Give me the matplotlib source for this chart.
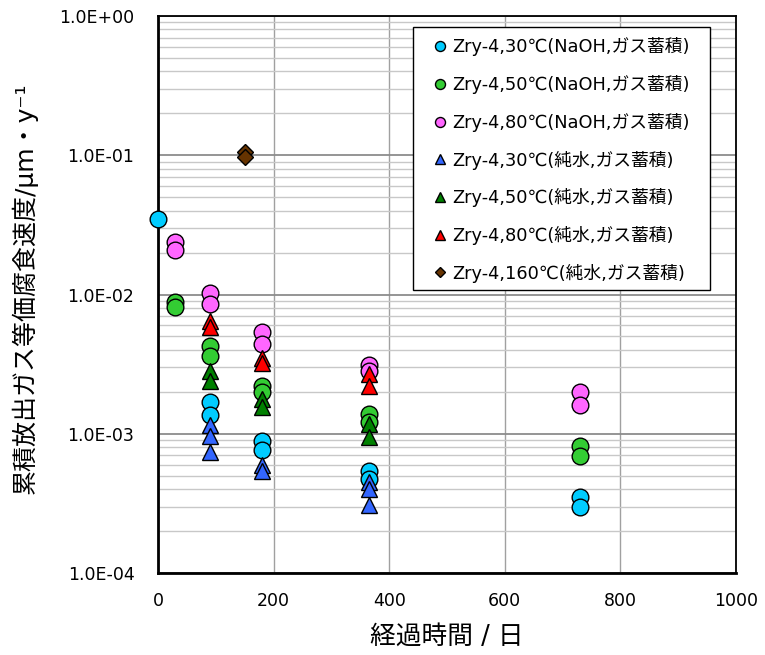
import matplotlib
matplotlib.use("Agg")
import matplotlib.pyplot as plt
from matplotlib.patches import Rectangle
from matplotlib.ticker import FixedLocator, FuncFormatter, LogLocator, NullFormatter

plt.rcParams['font.family'] = ['DejaVu Sans', 'Noto Sans CJK JP']

# ---- data ----
labels = ["Zry-4,30℃(NaOH,ガス蓄積)", "Zry-4,50℃(NaOH,ガス蓄積)", "Zry-4,80℃(NaOH,ガス蓄積)",
          "Zry-4,30℃(純水,ガス蓄積)", "Zry-4,50℃(純水,ガス蓄積)", "Zry-4,80℃(純水,ガス蓄積)",
          "Zry-4,160℃(純水,ガス蓄積)"]

x_naoh30 = [0, 90, 90, 180, 180, 365, 365, 730, 730]
y_naoh30 = [0.035, 0.0017, 0.00137, 0.00089, 0.00077, 0.00054, 0.00047, 0.00035, 0.00030]

x_naoh50 = [30, 30, 90, 90, 180, 180, 365, 365, 730, 730]
y_naoh50 = [0.0089, 0.0082, 0.0043, 0.0036, 0.0022, 0.0020, 0.00139, 0.00122, 0.00081, 0.00069]

x_naoh80 = [30, 30, 90, 90, 180, 180, 365, 365, 730, 730]
y_naoh80 = [0.024, 0.021, 0.0103, 0.0085, 0.0054, 0.0044, 0.0031, 0.0028, 0.0020, 0.0016]

x_pure30 = [90, 90, 90, 180, 180, 365, 365, 365]
y_pure30 = [0.00116, 0.00096, 0.00074, 0.00060, 0.00054, 0.00045, 0.00040, 0.00031]

x_pure50 = [90, 90, 180, 180, 365, 365]
y_pure50 = [0.0028, 0.0024, 0.00178, 0.00156, 0.00118, 0.00095]

x_pure80 = [90, 90, 180, 180, 365, 365]
y_pure80 = [0.0065, 0.0058, 0.0035, 0.0032, 0.0027, 0.0022]

x_pure160 = [150, 150]
y_pure160 = [0.105, 0.097]

y_ticks = [1e-4, 1e-3, 1e-2, 1e-1, 1e0]
y_tick_labels = ["1.0E-04", "1.0E-03", "1.0E-02", "1.0E-01", "1.0E+00"]
x_ticks = [0, 200, 400, 600, 800, 1000]

series = [
    (x_naoh30, y_naoh30, 'o', '#00CCFF', 12),
    (x_naoh50, y_naoh50, 'o', '#33CC33', 12),
    (x_naoh80, y_naoh80, 'o', '#FF66FF', 12),
    (x_pure30, y_pure30, '^', '#3366FF', 11),
    (x_pure50, y_pure50, '^', '#008000', 11),
    (x_pure80, y_pure80, '^', '#FF0000', 11),
    (x_pure160, y_pure160, 'D', '#663300', 8.5),
]

W, H = 765, 655
L, R, T, B = 158, 736, 16, 573
fig = plt.figure(figsize=(W/100, H/100), dpi=100)
ax = fig.add_axes([L/W, 1-B/H, (R-L)/W, (B-T)/H])

def ax_x(px):
    return (px - L) / (R - L)

def ax_y(py):
    return (B - py) / (B - T)

for (xs, ys, m, c, ms), lab in zip(series, labels):
    ax.plot(xs, ys, linestyle='none', marker=m, markersize=ms, markerfacecolor=c,
            markeredgecolor='black', markeredgewidth=1.0, label=lab, clip_on=False, zorder=3)

ax.set_yscale('log')
ax.set_ylim(1e-4, 1e0)
ax.set_xlim(0, 1000)
ax.yaxis.set_major_locator(FixedLocator(y_ticks))
ax.yaxis.set_major_formatter(FuncFormatter(lambda v, p: y_tick_labels[y_ticks.index(v)] if v in y_ticks else ""))
ax.yaxis.set_minor_locator(LogLocator(base=10, subs=[2, 3, 4, 5, 6, 7, 8, 9]))
ax.yaxis.set_minor_formatter(NullFormatter())
ax.xaxis.set_major_locator(FixedLocator(x_ticks))

ax.grid(True, which='major', axis='y', color='#8c8c8c', linewidth=1.3, zorder=0)
ax.grid(True, which='minor', axis='y', color='#c8c8c8', linewidth=1.0, zorder=0)
ax.grid(True, which='major', axis='x', color='#a0a0a0', linewidth=1.0, zorder=0)
ax.set_axisbelow(True)

ax.tick_params(which='both', length=0)
ax.tick_params(axis='y', labelsize=12.5, pad=17)
ax.tick_params(axis='x', labelsize=12.5, pad=14)

for s in ['left', 'bottom']:
    ax.spines[s].set_linewidth(2.0)
for s in ['top', 'right']:
    ax.spines[s].set_linewidth(1.3)
for s in ax.spines.values():
    s.set_color('black')

ax.set_xlabel("経過時間 / 日", fontsize=18.5)
ax.xaxis.set_label_coords(0.5, -0.091)
ax.set_ylabel("累積放出ガス等価腐食速度/μm・y⁻¹", fontsize=18)
ax.yaxis.set_label_coords(ax_x(38), 0.512)

# legend box
box = Rectangle((ax_x(413), ax_y(290)), ax_x(710) - ax_x(413), ax_y(27) - ax_y(290),
                transform=ax.transAxes, facecolor='white', edgecolor='black',
                linewidth=1.0, zorder=4, clip_on=False)
ax.add_patch(box)

leg = ax.legend(loc='upper left', bbox_to_anchor=(ax_x(413), ax_y(27)),
                borderaxespad=0, fontsize=12.8, markerscale=0.6, handletextpad=-0.25,
                handlelength=1.85, labelspacing=1.05, borderpad=0.59, frameon=False)
leg.set_zorder(5)

fig.savefig("out.png", dpi=100)
